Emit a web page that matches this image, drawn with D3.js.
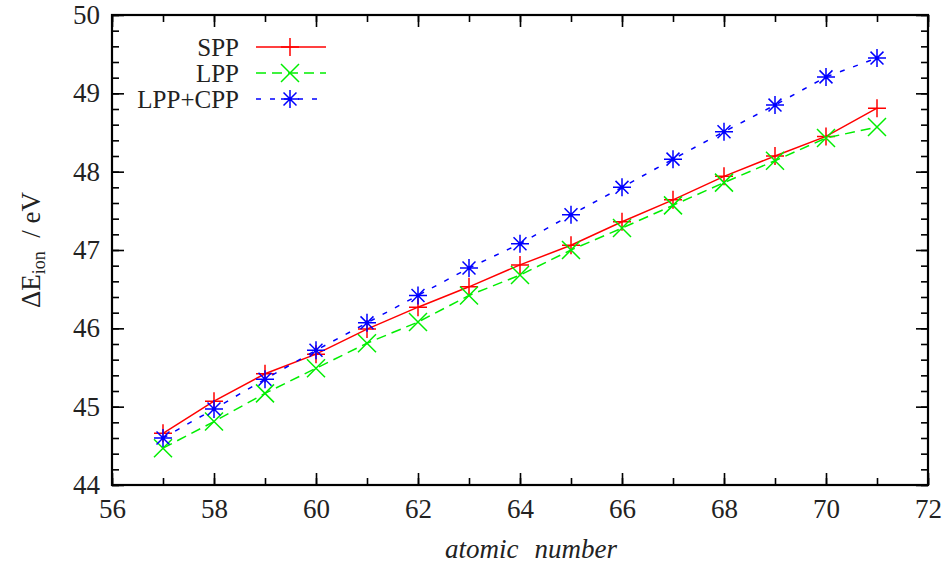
<!DOCTYPE html>
<html>
<head>
<meta charset="utf-8">
<script src="https://cdnjs.cloudflare.com/ajax/libs/d3/7.8.5/d3.min.js"></script>
<style>
 @font-face { font-family: "ChartSerif"; src: local("Liberation Serif"), local("LiberationSerif"), local("LiberationSerif-Regular"); font-style: normal; }
 @font-face { font-family: "ChartSerif"; src: local("Liberation Serif Italic"), local("LiberationSerif-Italic"); font-style: italic; }
 body { margin: 0; background: #fff; }
</style>
</head>
<body>
<script>
const atomicNumbers = [57, 58, 59, 60, 61, 62, 63, 64, 65, 66, 67, 68, 69, 70, 71];
const spp    = [44.66, 45.07, 45.42, 45.67, 45.99, 46.27, 46.53, 46.81, 47.06, 47.36, 47.64, 47.94, 48.20, 48.45, 48.81];
const lpp    = [44.47, 44.81, 45.17, 45.49, 45.81, 46.08, 46.42, 46.68, 47.00, 47.28, 47.57, 47.86, 48.14, 48.43, 48.57];
const lppCpp = [44.60, 44.97, 45.35, 45.72, 46.07, 46.42, 46.77, 47.08, 47.45, 47.80, 48.16, 48.51, 48.85, 49.21, 49.45];
const seriesNames = ["SPP", "LPP", "LPP+CPP"];
const xTicks = [56, 58, 60, 62, 64, 66, 68, 70, 72];
const yTicks = [44, 45, 46, 47, 48, 49, 50];

const fontStack = "'Liberation Serif', ChartSerif, 'Times New Roman', 'DejaVu Serif', serif";
const w = 949, h = 568;
const padL = 112, padR = 928, padT = 15, padB = 485;

const svg = d3.select("body").append("svg")
  .attr("width", w).attr("height", h)
  .attr("font-family", fontStack)
  .style("font-family", fontStack);

const x = d3.scaleLinear().domain([56, 72]).range([padL, padR]);
const y = d3.scaleLinear().domain([44, 50]).range([padB, padT]);

const xMinor = d3.range(56, 73, 1);
const yMinor = d3.range(44, 50.01, 0.2);

// label text in the serif face
function label(sel, size) {
  return sel.attr("font-family", fontStack)
    .style("font-family", fontStack)
    .style("font-size", size + "px")
    .attr("fill", "#222");
}

// ticks on all four sides, pointing inward
function tickAxis(axisFn, scale, values, size, tr) {
  const g = svg.append("g").attr("transform", tr)
    .call(axisFn(scale).tickValues(values).tickSize(size).tickFormat(""));
  g.select(".domain").remove();
  g.selectAll("line").attr("stroke", "#000").attr("stroke-width", 1.6);
  return g;
}
tickAxis(d3.axisBottom, x, xMinor, -7, `translate(0,${padB})`);
tickAxis(d3.axisBottom, x, xTicks, -12, `translate(0,${padB})`);
tickAxis(d3.axisTop, x, xMinor, -7, `translate(0,${padT})`);
tickAxis(d3.axisTop, x, xTicks, -12, `translate(0,${padT})`);
tickAxis(d3.axisLeft, y, yMinor, -7, `translate(${padL},0)`);
tickAxis(d3.axisLeft, y, yTicks, -12, `translate(${padL},0)`);
tickAxis(d3.axisRight, y, yMinor, -7, `translate(${padR},0)`);
tickAxis(d3.axisRight, y, yTicks, -12, `translate(${padR},0)`);

// tick labels
const xl = svg.append("g").attr("transform", `translate(0,${padB})`)
  .call(d3.axisBottom(x).tickValues(xTicks).tickSize(0).tickPadding(14).tickFormat(d3.format("d")));
xl.select(".domain").remove();
xl.attr("font-family", fontStack);
label(xl.selectAll("text"), 27);

const yl = svg.append("g").attr("transform", `translate(${padL},0)`)
  .call(d3.axisLeft(y).tickValues(yTicks).tickSize(0).tickPadding(12).tickFormat(d3.format("d")));
yl.select(".domain").remove();
yl.attr("font-family", fontStack);
label(yl.selectAll("text"), 27);

// frame
svg.append("rect")
  .attr("x", padL).attr("y", padT)
  .attr("width", padR - padL).attr("height", padB - padT)
  .attr("fill", "none").attr("stroke", "#000").attr("stroke-width", 2.2);

// axis titles
const xt = label(svg.append("text").attr("y", 558), 27).style("font-style", "italic");
xt.append("tspan").attr("x", 445).text("atomic");
xt.append("tspan").attr("x", 617).attr("text-anchor", "end").text("number");

const yt = label(svg.append("text")
  .attr("transform", "translate(40,250) rotate(-90)")
  .attr("text-anchor", "middle"), 27);
yt.append("tspan").text("ΔE");
yt.append("tspan").style("font-size", "18px").attr("dy", 5).text("ion");
yt.append("tspan").attr("dy", -5).text("\u00a0\u00a0/ eV");

// markers
const R = 9;
const markerPath = {
  plus: `M${-R},0H${R}M0,${-R}V${R}`,
  cross: `M${-R},${-R}L${R},${R}M${-R},${R}L${R},${-R}`,
  star: `M${-R},0H${R}M0,${-R}V${R}M${-R * 0.72},${-R * 0.72}L${R * 0.72},${R * 0.72}M${-R * 0.72},${R * 0.72}L${R * 0.72},${-R * 0.72}`
};

const series = [
  { name: seriesNames[0], values: spp,    color: "#ff0000", dash: null,   marker: "plus" },
  { name: seriesNames[1], values: lpp,    color: "#00ee00", dash: "10,6", marker: "cross" },
  { name: seriesNames[2], values: lppCpp, color: "#0000ff", dash: "5,9",  marker: "star" }
];

const line = d3.line()
  .x((d, i) => x(atomicNumbers[i]))
  .y(d => y(d));

series.forEach(s => {
  svg.append("path")
    .attr("d", line(s.values))
    .attr("fill", "none")
    .attr("stroke", s.color)
    .attr("stroke-width", 1.5)
    .attr("stroke-dasharray", s.dash);
  svg.append("g").selectAll("path")
    .data(s.values)
    .enter()
    .append("path")
    .attr("transform", (d, i) => `translate(${x(atomicNumbers[i])},${y(d)})`)
    .attr("d", markerPath[s.marker])
    .attr("fill", "none")
    .attr("stroke", s.color)
    .attr("stroke-width", 1.5);
});

// legend
const legend = svg.append("g");
series.forEach((s, i) => {
  const ly = 47 + i * 26;
  label(legend.append("text")
    .attr("x", 239).attr("y", ly)
    .attr("dy", "0.35em")
    .attr("text-anchor", "end"), 25)
    .text(s.name);
  legend.append("line")
    .attr("x1", 256).attr("x2", 326)
    .attr("y1", ly).attr("y2", ly)
    .attr("stroke", s.color)
    .attr("stroke-width", 1.5)
    .attr("stroke-dasharray", s.dash);
  legend.append("path")
    .attr("transform", `translate(290,${ly})`)
    .attr("d", markerPath[s.marker])
    .attr("fill", "none")
    .attr("stroke", s.color)
    .attr("stroke-width", 1.5);
});
</script>
</body>
</html>
